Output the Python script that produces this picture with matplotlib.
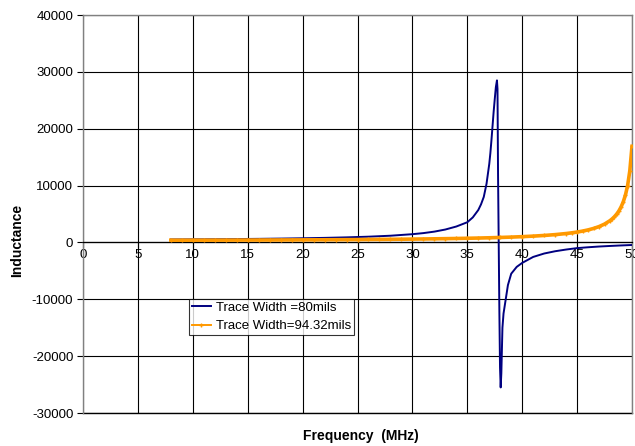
import matplotlib
matplotlib.use("Agg")
import matplotlib.pyplot as plt

plt.rcParams['font.family'] = ['Liberation Sans', 'DejaVu Sans']

# Trace Width = 80 mils (blue)
freq_80 = [8, 10, 12, 14, 16, 18, 20, 22, 24, 26, 28, 30, 31, 32, 33, 34, 35, 35.5, 36,
           36.25, 36.5, 36.75, 37, 37.1, 37.2, 37.3, 37.4, 37.5, 37.6, 37.7, 37.75, 37.8,
           37.86, 37.92, 37.98, 38.04, 38.1, 38.2, 38.3, 38.5, 38.7, 39, 39.5, 40, 41, 42,
           43, 44, 45, 46, 47, 48, 49, 50]
ind_80 = [520, 540, 565, 595, 630, 675, 730, 800, 890, 1010, 1180, 1450, 1640, 1900, 2270,
          2800, 3550, 4400, 5700, 6700, 8000, 10300, 13800, 15700, 18000, 20500, 23000,
          25200, 27300, 28500, 27000, 12000, 0, -12000, -22000, -25500, -23000, -15000,
          -12500, -10000, -7500, -5500, -4300, -3600, -2550, -1950, -1550, -1250, -1000,
          -850, -720, -620, -530, -450]

# Trace Width = 94.32 mils (orange)
freq_94 = [8, 9, 10, 11, 12, 13, 14, 15, 16, 17, 18, 19, 20, 21, 22, 23, 24, 25, 26, 27, 28,
           29, 30, 31, 32, 33, 34, 35, 36, 37, 38, 39, 40, 41, 42, 43, 44, 44.5, 45, 45.5,
           46, 46.5, 47, 47.5, 48, 48.2, 48.4, 48.6, 48.8, 49, 49.2, 49.4, 49.6, 49.8, 50]
ind_94 = [390, 392, 395, 399, 403, 407, 412, 417, 422, 428, 435, 442, 450, 459, 469, 479, 490,
          503, 517, 532, 548, 566, 586, 609, 634, 662, 693, 730, 770, 818, 873, 938, 1015, 1109,
          1225, 1372, 1564, 1684, 1825, 1995, 2202, 2460, 2790, 3228, 3838, 4153, 4524, 4974,
          5523, 6219, 7116, 8315, 10000, 12580, 16900]

x_ticks = [0, 5, 10, 15, 20, 25, 30, 35, 40, 45, 50]
y_ticks = [-30000, -20000, -10000, 0, 10000, 20000, 30000, 40000]

fig = plt.figure(figsize=(6.35, 4.46), dpi=100)
ax = fig.add_axes([83/635, 1-413/446, 549/635, 398/446])

ax.set_xlim(0, 50)
ax.set_ylim(-30000, 40000)
ax.set_xticks(x_ticks)
ax.set_yticks(y_ticks)
ax.set_xticklabels([str(v) for v in x_ticks])
ax.set_yticklabels([str(v) for v in y_ticks])

ax.grid(True, color='black', linewidth=0.8)
ax.set_axisbelow(True)

ax.spines['bottom'].set_position(('data', 0))
ax.spines['bottom'].set_color('black')
ax.spines['bottom'].set_linewidth(0.9)
for s in ['top', 'right', 'left']:
    ax.spines[s].set_color('#808080')
    ax.spines[s].set_linewidth(1.0)
ax.axhline(-30000, color='black', linewidth=1.0, clip_on=False)

ax.tick_params(axis='both', labelsize=9.5, colors='black', length=4, width=0.8)
ax.tick_params(axis='x', direction='out', pad=1)
ax.tick_params(axis='y', direction='out', pad=3)

ax.plot(freq_80, ind_80, color='#000080', linewidth=1.4, label='Trace Width =80mils', zorder=3)
ax.plot(freq_94, ind_94, color='#FF9900', linewidth=2.6, marker='+', markersize=3.5,
        markeredgewidth=1.0, label='Trace Width=94.32mils', zorder=4)

leg = ax.legend(loc='upper left', bbox_to_anchor=(0.193, 0.286), borderaxespad=0,
                fontsize=9.5, frameon=True, fancybox=False, handlelength=1.5,
                handletextpad=0.35, borderpad=0.2, labelspacing=0.45)
leg.get_frame().set_edgecolor('black')
leg.get_frame().set_linewidth(0.8)
for h in leg.get_lines():
    h.set_linewidth(1.4)

fig.text(361/635, 1-436/446, 'Frequency  (MHz)', ha='center', va='center',
         fontsize=10, fontweight='bold')
fig.text(17/635, 1-240/446, 'Inductance', ha='center', va='center', rotation=90,
         fontsize=10, fontweight='bold')

fig.savefig('out.png', dpi=100)
